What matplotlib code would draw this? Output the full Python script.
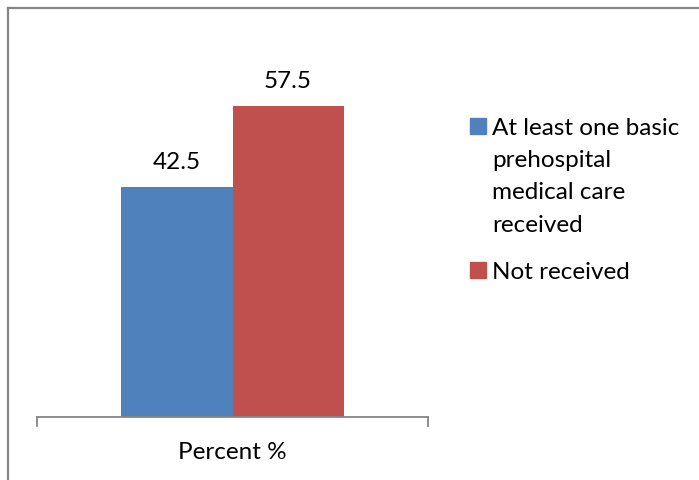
import matplotlib.pyplot as plt
from matplotlib.patches import Rectangle

# Data
category = "Percent %"
series = ["At least one basic\nprehospital\nmedical care\nreceived", "Not received"]
values = [42.5, 57.5]
colors = ["#4F81BD", "#C0504D"]

plt.rcParams["font.family"] = ["Lato", "DejaVu Sans"]
FS = 17.5

W, H = 699, 481
fig = plt.figure(figsize=(W / 100, H / 100), dpi=100)

# plot area in pixels: left 37, right 428, top 39, bottom 418
ax = fig.add_axes([37 / W, 1 - 418 / H, (428 - 37) / W, (418 - 39) / H])
bar_w = 0.284
for i, (v, c) in enumerate(zip(values, colors)):
    x = -bar_w + i * bar_w
    ax.bar(x, v, width=bar_w, align="edge", color=c, zorder=2)
    ax.text(x + bar_w / 2, v + 4.6, f"{v:.1f}", ha="center", va="center",
            fontsize=FS, color="#000000")

ax.set_xlim(-0.5, 0.5)
ax.set_ylim(0, 70)
ax.set_yticks([])
ax.set_xticks([])
for s in ["top", "right", "left"]:
    ax.spines[s].set_visible(False)
ax.spines["bottom"].set_color("#868686")
ax.spines["bottom"].set_linewidth(1.3)
# end tick marks
for xe in (-0.5, 0.5):
    ax.plot([xe, xe], [0, -1.6], color="#868686", lw=1.3, clip_on=False)
ax.text(0, -6.3, category, ha="center", va="center", fontsize=FS)

# legend drawn manually
leg_y = [127, 271]
for lab, c, y in zip(series, colors, leg_y):
    fig.patches.append(Rectangle((470 / W, 1 - (y + 8) / H), 16 / W, 16 / H,
                                 transform=fig.transFigure, color=c))
    fig.text(492 / W, 1 - (y - 9) / H, lab, ha="left", va="top",
             fontsize=FS, linespacing=1.66)

# outer chart border (only top and left visible)
fig.add_artist(plt.Line2D([8 / W, 1], [1 - 9 / H, 1 - 9 / H], color="#868686", lw=1.6,
                          transform=fig.transFigure))
fig.add_artist(plt.Line2D([8 / W, 8 / W], [0, 1 - 9 / H], color="#868686", lw=1.6,
                          transform=fig.transFigure))

fig.savefig("out.png", dpi=100)
